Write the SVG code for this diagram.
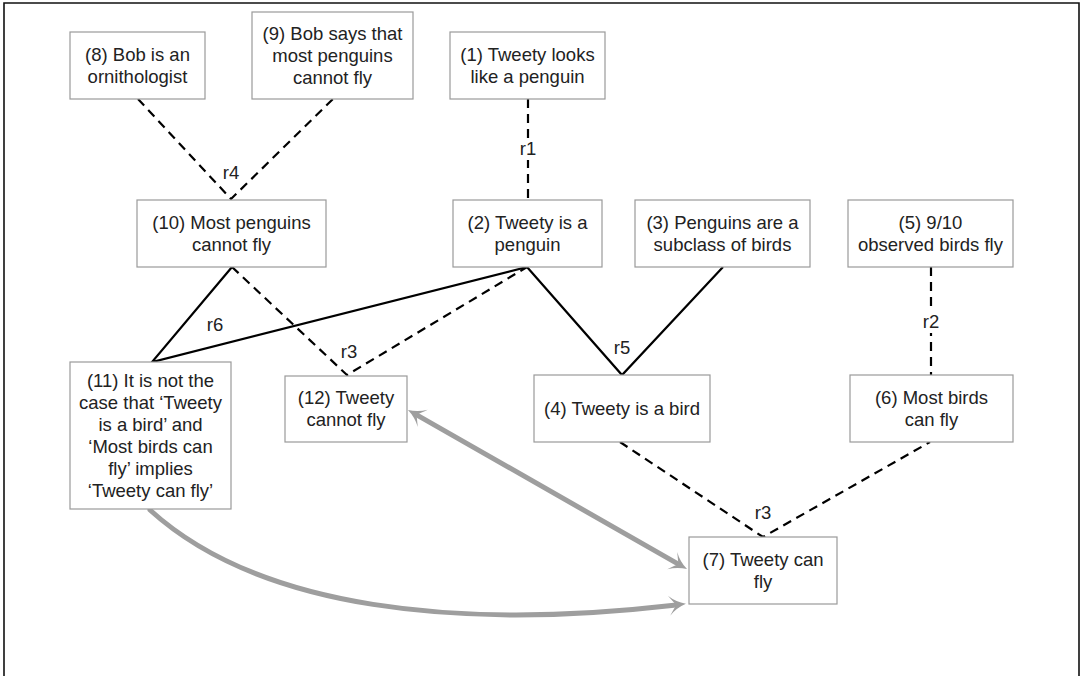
<svg xmlns="http://www.w3.org/2000/svg" width="1080" height="676" viewBox="0 0 1080 676">
<defs>
<style>
.box{fill:#fff;stroke:#9a9a9a;stroke-width:1.2}
.t{font-family:"Liberation Sans",Arial,sans-serif;font-size:18.5px;fill:#222;text-anchor:middle}
.lbl{font-family:"Liberation Sans",Arial,sans-serif;font-size:18.5px;fill:#222;text-anchor:middle}
.bg{fill:#fff}
.solid{fill:none;stroke:#000;stroke-width:2.2;stroke-linejoin:miter}
.dash{fill:none;stroke:#000;stroke-width:2.2;stroke-dasharray:9,6}
.grey{fill:none;stroke:#9e9e9e;stroke-width:5;stroke-linecap:round}
</style>
<marker id="ah" markerUnits="userSpaceOnUse" markerWidth="30" markerHeight="30" viewBox="-10 -15 30 30" refX="0" refY="0" orient="auto-start-reverse">
<path d="M12,0 Q2,-3 -5,-10 Q0,-3 2,0 Q0,3 -5,10 Q2,3 12,0 Z" fill="#9e9e9e"/>
</marker>
</defs>
<rect width="1080" height="676" fill="#fff"/>
<path d="M4,676 V3 H1079 V676" fill="none" stroke="#111" stroke-width="1.6"/>

<g id="connectors">
<path class="dash" d="M138,99 L231,199 L333,99"/>
<path class="dash" d="M528,99 V200"/>
<path class="solid" d="M232,267 L152,362 L527,267"/>
<path class="dash" d="M232,267 L347,375 L527,267"/>
<path class="solid" d="M527,267 L622,375 L723,267"/>
<path class="dash" d="M931,267 V375"/>
<path class="dash" d="M620,442 L763,537 L930,442"/>
<path class="grey" d="M418.4,415.9 L676.6,563.1" marker-start="url(#ah)" marker-end="url(#ah)"/>
<path class="grey" d="M150,510 C260,610 460,630 674,605.2" marker-end="url(#ah)"/>
<rect class="bg" x="518" y="139" width="20" height="21"/>
<rect class="bg" x="921" y="312" width="20" height="21"/>
<text class="lbl" x="231" y="179">r4</text>
<text class="lbl" x="528" y="155">r1</text>
<text class="lbl" x="215" y="331">r6</text>
<text class="lbl" x="349" y="358">r3</text>
<text class="lbl" x="622" y="354">r5</text>
<text class="lbl" x="931" y="328">r2</text>
<text class="lbl" x="763" y="519">r3</text>
</g>

<g id="n8"><rect class="box" x="70" y="32" width="135" height="67"/>
<text class="t" x="137.5" y="60.5">(8) Bob is an</text><text class="t" x="137.5" y="82.5">ornithologist</text></g>

<g id="n9"><rect class="box" x="252" y="12" width="161" height="87"/>
<text class="t" x="332.5" y="39.5">(9) Bob says that</text><text class="t" x="332.5" y="61.5">most penguins</text><text class="t" x="332.5" y="83.5">cannot fly</text></g>

<g id="n1"><rect class="box" x="450" y="32" width="155" height="67"/>
<text class="t" x="527.5" y="60.5">(1) Tweety looks</text><text class="t" x="527.5" y="82.5">like a penguin</text></g>

<g id="n10"><rect class="box" x="137" y="200" width="189" height="67"/>
<text class="t" x="231.5" y="228.5">(10) Most penguins</text><text class="t" x="231.5" y="250.5">cannot fly</text></g>

<g id="n2"><rect class="box" x="453" y="200" width="149" height="67"/>
<text class="t" x="527.5" y="228.5">(2) Tweety is a</text><text class="t" x="527.5" y="250.5">penguin</text></g>

<g id="n3"><rect class="box" x="635" y="200" width="175" height="67"/>
<text class="t" x="722.5" y="228.5">(3) Penguins are a</text><text class="t" x="722.5" y="250.5">subclass of birds</text></g>

<g id="n5"><rect class="box" x="848" y="200" width="165" height="67"/>
<text class="t" x="930.5" y="228.5">(5) 9/10</text><text class="t" x="930.5" y="250.5">observed birds fly</text></g>

<g id="n11"><rect class="box" x="70" y="362" width="161" height="147"/>
<text class="t" x="150.5" y="386.5">(11) It is not the</text>
<text class="t" x="150.5" y="408.5">case that ‘Tweety</text>
<text class="t" x="150.5" y="430.5">is a bird’ and</text>
<text class="t" x="150.5" y="452.5">‘Most birds can</text>
<text class="t" x="150.5" y="474.5">fly’ implies</text>
<text class="t" x="150.5" y="496.5">‘Tweety can fly’</text></g>

<g id="n12"><rect class="box" x="285" y="376" width="122" height="66"/>
<text class="t" x="346" y="403.5">(12) Tweety</text><text class="t" x="346" y="425.5">cannot fly</text></g>

<g id="n4"><rect class="box" x="534" y="375" width="176" height="67"/>
<text class="t" x="622" y="415">(4) Tweety is a bird</text></g>

<g id="n6"><rect class="box" x="850" y="375" width="163" height="67"/>
<text class="t" x="931.5" y="403.5">(6) Most birds</text><text class="t" x="931.5" y="425.5">can fly</text></g>

<g id="n7"><rect class="box" x="689" y="537" width="148" height="67"/>
<text class="t" x="763" y="565.5">(7) Tweety can</text><text class="t" x="763" y="587.5">fly</text></g>
</svg>
